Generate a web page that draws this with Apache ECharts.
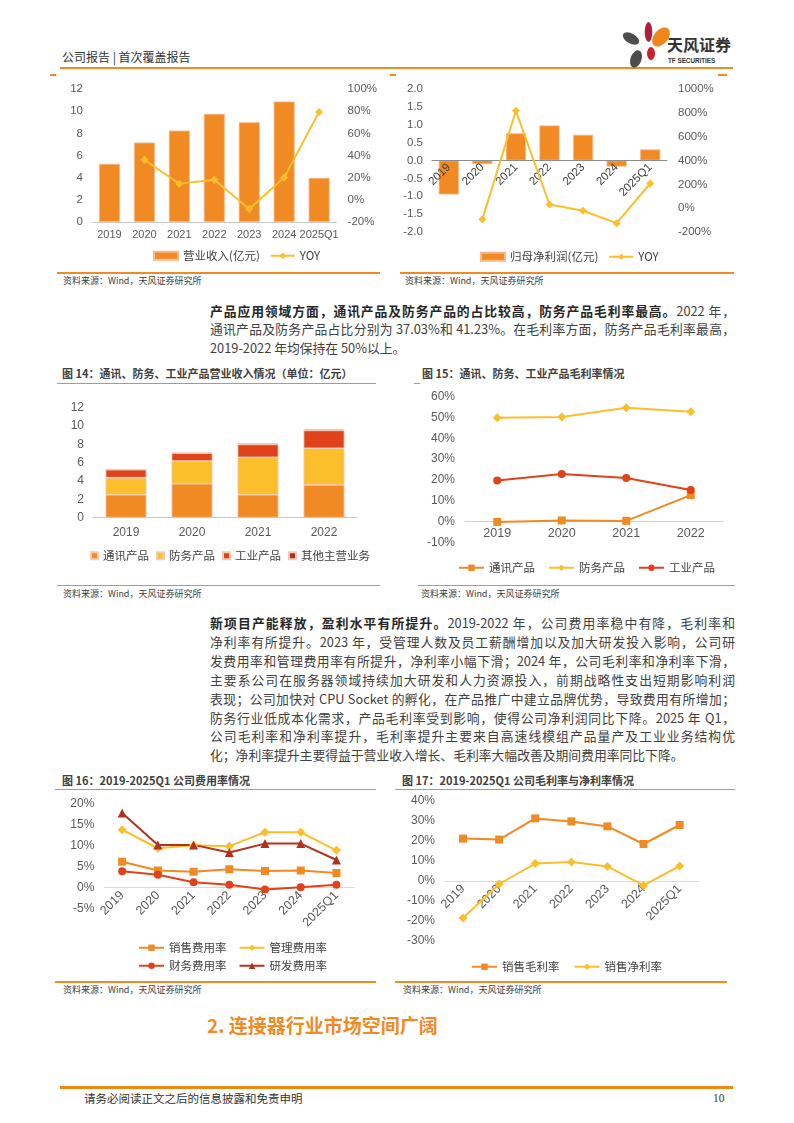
<!DOCTYPE html>
<html><head><meta charset="utf-8">
<script src="https://cdn.jsdelivr.net/npm/echarts@6/dist/echarts.min.js"></script>
<style>
body{margin:0;background:#fff;}
#page{position:relative;width:794px;height:1123px;overflow:hidden;font-family:"Noto Sans CJK SC",sans-serif;color:#404040;background:#fff;}
.abs{position:absolute;white-space:nowrap;}
.ln{position:absolute;background:#F28A24;}
.para{position:absolute;left:210px;width:525px;font-size:12.8px;line-height:19px;height:19px;color:#404040;}
.j{text-align:justify;text-align-last:justify;}
.para b{color:#262626;font-weight:700;}
.ftitle{position:absolute;font-size:11px;font-weight:700;color:#404040;line-height:14px;white-space:nowrap;}
.src{position:absolute;font-size:9px;color:#404040;line-height:12px;white-space:nowrap;}
.chart{position:absolute;}
</style>
</head><body>
<div id="page">
  <!-- header -->
  <div class="abs" style="left:62px;top:49px;font-size:12px;color:#333;line-height:16px;">公司报告 | 首次覆盖报告</div>
  <div class="ln" style="left:60px;top:67px;width:673px;height:2px;"></div>
  <svg class="abs" style="left:615px;top:15px" width="125" height="58">
    <ellipse cx="33.5" cy="17" rx="3.8" ry="10" fill="#B01E3C"/>
    <ellipse cx="46" cy="22" rx="7" ry="11" fill="#F08519" transform="rotate(40 46 22)"/>
    <ellipse cx="16" cy="23.5" rx="9" ry="5" fill="#4D4D4D" transform="rotate(30 16 23.5)"/>
    <ellipse cx="36" cy="38.5" rx="4" ry="6.5" fill="#C8202F"/>
    <ellipse cx="21" cy="44" rx="5.5" ry="9" fill="#4D4D4D" transform="rotate(20 21 44)"/>
    <text x="52" y="36" font-size="16" font-weight="700" fill="#333" font-family="Noto Sans CJK SC">天风证券</text>
    <text x="53" y="48" font-size="6.3" font-weight="700" fill="#333" font-family="Liberation Sans, Arial">TF SECURITIES</text>
  </svg>
  <div class="ln" style="left:50px;top:74px;width:6px;height:1.5px;"></div>
  <div class="ln" style="left:390px;top:74px;width:6px;height:1.5px;"></div>
  <div class="ln" style="left:718px;top:74px;width:9px;height:1.5px;"></div>

  <!-- top charts -->
  <div id="cA" class="chart" style="left:50px;top:75px;width:330px;height:195px;"></div>
  <div id="cB" class="chart" style="left:390px;top:75px;width:345px;height:195px;"></div>
  <div class="ln" style="left:57px;top:272px;width:323px;height:1.5px;"></div>
  <div class="ln" style="left:400px;top:272px;width:334px;height:1.5px;"></div>
  <div class="src" style="left:63px;top:275px;">资料来源：Wind，天风证券研究所</div>
  <div class="src" style="left:405px;top:275px;">资料来源：Wind，天风证券研究所</div>

  <!-- paragraph 1 -->
  <div class="para j" style="top:300.5px;"><b>产品应用领域方面，通讯产品及防务产品的占比较高，防务产品毛利率最高。</b>2022 年，</div>
  <div class="para j" style="top:319px;">通讯产品及防务产品占比分别为 37.03%和 41.23%。在毛利率方面，防务产品毛利率最高，</div>
  <div class="para" style="top:337.5px;">2019-2022 年均保持在 50%以上。</div>

  <!-- fig 14 / 15 -->
  <div class="ftitle" style="left:62px;top:366px;">图 14：通讯、防务、工业产品营业收入情况（单位：亿元）</div>
  <div class="ln" style="left:57px;top:382.5px;width:319px;height:1.5px;"></div>
  <div class="ftitle" style="left:422px;top:366px;">图 15：通讯、防务、工业产品毛利率情况</div>
  <div class="ln" style="left:414px;top:382.5px;width:6px;height:1.5px;"></div>
  <div id="cC" class="chart" style="left:55px;top:390px;width:330px;height:190px;"></div>
  <div id="cD" class="chart" style="left:400px;top:390px;width:335px;height:190px;"></div>
  <div class="ln" style="left:57px;top:584.5px;width:323px;height:1.5px;"></div>
  <div class="ln" style="left:418px;top:584.5px;width:317px;height:1.5px;"></div>
  <div class="src" style="left:63px;top:588px;">资料来源：Wind，天风证券研究所</div>
  <div class="src" style="left:421px;top:588px;">资料来源：Wind，天风证券研究所</div>

  <!-- paragraph 2 -->
  <div class="para j" style="top:613px;"><b>新项目产能释放，盈利水平有所提升。</b>2019-2022 年，公司费用率稳中有降，毛利率和</div>
  <div class="para j" style="top:631.9px;">净利率有所提升。2023 年，受管理人数及员工薪酬增加以及加大研发投入影响，公司研</div>
  <div class="para j" style="top:650.8px;">发费用率和管理费用率有所提升，净利率小幅下滑；2024 年，公司毛利率和净利率下滑，</div>
  <div class="para j" style="top:669.7px;">主要系公司在服务器领域持续加大研发和人力资源投入，前期战略性支出短期影响利润</div>
  <div class="para j" style="top:688.6px;">表现；公司加快对 CPU Socket 的孵化，在产品推广中建立品牌优势，导致费用有所增加；</div>
  <div class="para j" style="top:707.5px;">防务行业低成本化需求，产品毛利率受到影响，使得公司净利润同比下降。2025 年 Q1，</div>
  <div class="para j" style="top:726.4px;">公司毛利率和净利率提升，毛利率提升主要来自高速线模组产品量产及工业业务结构优</div>
  <div class="para" style="top:745.3px;">化；净利率提升主要得益于营业收入增长、毛利率大幅改善及期间费用率同比下降。</div>

  <!-- fig 16 / 17 -->
  <div class="ftitle" style="left:62px;top:773px;">图 16：2019-2025Q1 公司费用率情况</div>
  <div class="ln" style="left:55px;top:788.5px;width:321px;height:1.5px;"></div>
  <div class="ftitle" style="left:402px;top:773px;">图 17：2019-2025Q1 公司毛利率与净利率情况</div>
  <div class="ln" style="left:395px;top:788.5px;width:340px;height:1.5px;"></div>
  <div id="cE" class="chart" style="left:55px;top:795px;width:330px;height:180px;"></div>
  <div id="cF" class="chart" style="left:395px;top:795px;width:340px;height:180px;"></div>
  <div class="ln" style="left:55px;top:981px;width:321px;height:1.5px;"></div>
  <div class="ln" style="left:395px;top:981px;width:332px;height:1.5px;"></div>
  <div class="src" style="left:63px;top:984px;">资料来源：Wind，天风证券研究所</div>
  <div class="src" style="left:403px;top:984px;">资料来源：Wind，天风证券研究所</div>

  <!-- section heading -->
  <div class="abs" style="left:207px;top:1013px;font-size:19px;font-weight:700;color:#F28A24;line-height:24px;">2. 连接器行业市场空间广阔</div>

  <!-- footer -->
  <div class="ln" style="left:60px;top:1086px;width:673px;height:2.5px;background:#EE8A12;"></div>
  <div class="abs" style="left:84px;top:1091px;font-size:11.5px;color:#333;line-height:15px;">请务必阅读正文之后的信息披露和免责申明</div>
  <div class="abs" style="left:713px;top:1091px;font-size:11.5px;color:#333;line-height:15px;font-family:'Liberation Serif',serif;">10</div>
</div>
<script>
// ---------- data ----------
const years7 = ['2019','2020','2021','2022','2023','2024','2025Q1'];
const revenue = [5.24, 7.17, 8.25, 9.76, 9.0, 10.87, 3.98];
const revenueYoy = [null, 36.1, 14.5, 18.1, -8.3, 20.2, 79.3];
const netProfit = [-0.95, -0.10, 0.76, 0.98, 0.72, -0.17, 0.31];
const netProfitYoy = [null, -92, 817, 31, -22, -126, 207];

const years4 = ['2019','2020','2021','2022'];
const commRev = [2.51, 3.71, 2.51, 3.58];
const defRev = [1.85, 2.47, 4.07, 3.99];
const indRev = [0.88, 0.87, 1.42, 1.96];
const otherRev = [0.03, 0.03, 0.11, 0.14];

const commGm = [-0.2, 0.5, 0.3, 12.7];
const defGm = [49.9, 50.2, 54.7, 52.8];
const indGm = [19.7, 22.8, 20.9, 15.1];

const sellRate = [6.1, 4.0, 3.7, 4.3, 3.9, 4.0, 3.4];
const adminRate = [13.7, 9.3, 10.0, 9.8, 13.1, 13.1, 8.8];
const finRate = [3.8, 3.0, 1.2, 0.6, -0.5, 0.0, 0.6];
const rdRate = [17.7, 10.1, 10.1, 8.3, 10.4, 10.4, 6.5];

const grossMargin = [21.2, 20.7, 31.3, 29.8, 27.3, 18.5, 28.0];
const netMargin = [-18.5, -1.5, 8.7, 9.5, 7.3, -2.2, 7.5];

// ---------- styles ----------
const FONT = '"Liberation Sans", Arial, "Noto Sans CJK SC", sans-serif';
const LBL = '#595959';
const C_OR = '#F28A24', C_YE = '#FBBF2C', C_RD = '#E0421C', C_DR = '#B3321F';
const AXLINE = {show:true, onZero:false, lineStyle:{color:'#C8C8C8', width:1}};
const pct = v => v + '%';

function yAx(o){
  return Object.assign({type:'value', splitLine:{show:false}, axisLine:{show:false}, axisTick:{show:false},
    axisLabel:{color:LBL, fontSize:11.5, fontFamily:FONT, margin:9}}, o);
}
function legendBase(o){
  return Object.assign({textStyle:{color:'#404040', fontSize:11.5, fontFamily:'"Noto Sans CJK SC", sans-serif'},
    itemWidth:25, itemHeight:8, itemGap:12, padding:0}, o);
}
function lineS(name, data, color, symbol, size, extra){
  return Object.assign({name, type:'line', data, symbol, symbolSize:size, color,
    itemStyle:{color}, lineStyle:{color, width:2}, connectNulls:false}, extra||{});
}
// offset (px) that moves a bottom category axis up to the value-axis zero
function zeroOffset(containerH, grid, min, max){
  const h = containerH - grid.top - grid.bottom;
  return -h * (0 - min) / (max - min);
}
function mk(id, opt){
  const c = echarts.init(document.getElementById(id), null, {renderer:'canvas'});
  opt.animation = false;
  opt.textStyle = {fontFamily:FONT};
  c.setOption(opt);
}

// Chart A: revenue + YOY
mk('cA', {
  grid:{left:42, right:36, top:14, bottom:48},
  legend: legendBase({left:103, top:175, itemWidth:24, itemHeight:8, itemGap:10,
    data:[{name:'营业收入(亿元)', icon:'rect'}, 'YOY']}),
  xAxis:{type:'category', data:years7, axisLine:AXLINE, axisTick:{show:false},
    axisLabel:{color:LBL, fontSize:11, margin:7, interval:0}},
  yAxis:[yAx({min:0, max:12, interval:2}),
         yAx({min:-20, max:100, interval:20, position:'right', axisLabel:{color:LBL, fontSize:11.5, margin:11, formatter:pct}})],
  series:[
    {name:'营业收入(亿元)', type:'bar', data:revenue, barWidth:'60%', itemStyle:{color:C_OR, borderColor:'#F6B98A', borderWidth:0.8}},
    lineS('YOY', revenueYoy, C_YE, 'diamond', 8, {yAxisIndex:1})
  ]
});

// Chart B: net profit + YOY
const gB = {left:42, right:68, top:14, bottom:38};
mk('cB', {
  grid:gB,
  legend: legendBase({left:90, top:176, itemWidth:24, itemHeight:8, itemGap:10,
    data:[{name:'归母净利润(亿元)', icon:'rect'}, 'YOY']}),
  xAxis:{type:'category', data:years7, offset:zeroOffset(195, gB, -2, 2), z:5,
    axisLine:{show:true, onZero:false, lineStyle:{color:'#8C8C8C'}}, axisTick:{show:false},
    axisLabel:{color:'#404040', fontSize:11.5, rotate:45, margin:5, interval:0}},
  yAxis:[yAx({min:-2, max:2, interval:0.5, axisLabel:{color:LBL, fontSize:11.5, margin:9, formatter:v=>v.toFixed(1)}}),
         yAx({min:-200, max:1000, interval:200, position:'right', axisLabel:{color:LBL, fontSize:11.5, margin:11, formatter:pct}})],
  series:[
    {name:'归母净利润(亿元)', type:'bar', data:netProfit, barWidth:'60%', z:2, itemStyle:{color:C_OR, borderColor:'#F6B98A', borderWidth:0.8}},
    lineS('YOY', netProfitYoy, C_YE, 'diamond', 8, {yAxisIndex:1, z:6})
  ]
});

// Chart C: stacked revenue by product
mk('cC', {
  grid:{left:38, right:28, top:17.7, bottom:62.3},
  legend: legendBase({left:35, top:160, icon:'rect', itemWidth:7, itemHeight:7, itemGap:7}),
  xAxis:{type:'category', data:years4, axisLine:AXLINE, axisTick:{show:false},
    axisLabel:{color:LBL, fontSize:12, margin:9}},
  yAxis:[yAx({min:0, max:12, interval:2, axisLabel:{color:LBL, fontSize:12, margin:9}})],
  series:[
    {name:'通讯产品', type:'bar', stack:'s', data:commRev, barWidth:'62%', itemStyle:{color:C_OR, borderColor:'#F8C8B0', borderWidth:0.8}},
    {name:'防务产品', type:'bar', stack:'s', data:defRev, itemStyle:{color:C_YE, borderColor:'#F8C8B0', borderWidth:0.8}},
    {name:'工业产品', type:'bar', stack:'s', data:indRev, itemStyle:{color:C_RD, borderColor:'#F8C8B0', borderWidth:0.8}},
    {name:'其他主营业务', type:'bar', stack:'s', data:otherRev, itemStyle:{color:C_DR, borderColor:'#F8C8B0', borderWidth:0.8}}
  ]
});

// Chart D: gross margin by product
const gD = {left:65, right:12, top:6.7, bottom:37.7};
mk('cD', {
  grid:gD,
  legend: legendBase({left:58, top:172, itemGap:13}),
  xAxis:{type:'category', data:years4, offset:zeroOffset(190, gD, -10, 60),
    axisLine:{show:true, onZero:false, lineStyle:{color:'#D0D0D0'}}, axisTick:{show:false},
    axisLabel:{color:LBL, fontSize:12.5, margin:6}},
  yAxis:[yAx({min:-10, max:60, interval:10, axisLabel:{color:LBL, fontSize:12, margin:10, formatter:pct}})],
  series:[
    lineS('通讯产品', commGm, C_OR, 'rect', 8),
    lineS('防务产品', defGm, C_YE, 'diamond', 9),
    lineS('工业产品', indGm, C_RD, 'circle', 8)
  ]
});

// Chart E: expense ratios
const gE = {left:49.3, right:30.7, top:8.3, bottom:66.7};
mk('cE', {
  grid:gE,
  legend:[
    legendBase({left:83, top:147, data:['销售费用率','管理费用率']}),
    legendBase({left:83, top:165, data:['财务费用率','研发费用率']})
  ],
  xAxis:{type:'category', data:years7, offset:zeroOffset(180, gE, -5, 20),
    axisLine:{show:true, onZero:false, lineStyle:{color:'#D9D9D9'}}, axisTick:{show:false},
    axisLabel:{color:LBL, fontSize:12.5, rotate:45, margin:6, interval:0}},
  yAxis:[yAx({min:-5, max:20, interval:5, axisLabel:{color:LBL, fontSize:12, margin:10, formatter:pct}})],
  series:[
    lineS('销售费用率', sellRate, C_OR, 'rect', 8),
    lineS('管理费用率', adminRate, C_YE, 'diamond', 9),
    lineS('财务费用率', finRate, C_RD, 'circle', 8),
    lineS('研发费用率', rdRate, C_DR, 'triangle', 9)
  ]
});

// Chart F: gross & net margin
const gF = {left:50, right:37.3, top:6, bottom:34};
mk('cF', {
  grid:gF,
  legend: legendBase({left:76, top:166, itemGap:14}),
  xAxis:{type:'category', data:years7, offset:zeroOffset(180, gF, -30, 40),
    axisLine:{show:true, onZero:false, lineStyle:{color:'#D9D9D9'}}, axisTick:{show:false},
    axisLabel:{color:LBL, fontSize:12.5, rotate:45, margin:6, interval:0}},
  yAxis:[yAx({min:-30, max:40, interval:10, axisLabel:{color:LBL, fontSize:12, margin:10, formatter:pct}})],
  series:[
    lineS('销售毛利率', grossMargin, C_OR, 'rect', 8),
    lineS('销售净利率', netMargin, C_YE, 'diamond', 9)
  ]
});
</script>
</body></html>
